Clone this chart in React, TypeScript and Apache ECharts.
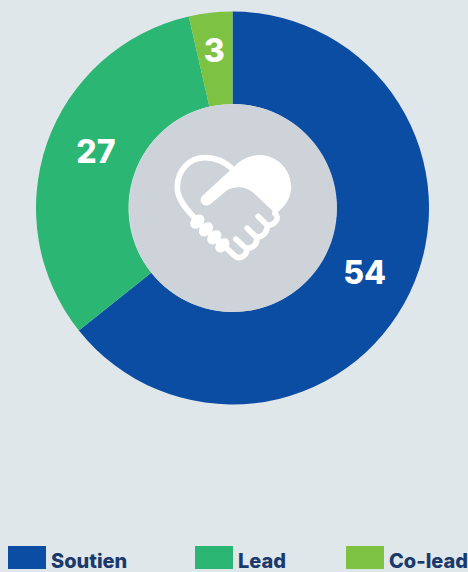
import React, { useEffect, useRef } from "react";
import * as echarts from "echarts";

const categories = ["Soutien", "Lead", "Co-lead"];
const values = [54, 27, 3];
const colors = ["#0b4da2", "#2bb673", "#7dc242"];
const legendLeft = [8, 195, 346];
const labelShift = [[-6, -2], [8, -6], [-1, -5]];
const font = "Inter";

const solid = "M340 203C365 175 395 165 420 165C475 167 514 210 514 262C514 295 495 320 468 342L400 278C375 258 345 258 320 272L275 310C262 322 248 318 243 305C240 295 245 290 250 285Z";
const outline = "M338 207C310 180 285 173 255 173C210 173 172 210 172 262C172 295 195 325 228 358M415 350L438 372C450 382 472 368 472 352C472 348 470 345 465 340M382 385L405 408C418 418 442 402 442 380M348 418L372 440C385 452 412 438 410 420M320 445L345 468C360 482 385 465 380 445";
echarts.graphic.registerShape("heartSolid", echarts.graphic.extendPath(solid, {}));
echarts.graphic.registerShape("heartLine", echarts.graphic.extendPath(outline, {}));
const beads = [[232, 365], [258, 388], [283, 412], [307, 436]];

export default function App() {
  const ref = useRef<HTMLDivElement>(null);
  useEffect(() => {
    document.body.style.margin = "0";
    const chart = echarts.init(ref.current!, undefined, { renderer: "svg" });
    chart.setOption({
      animation: false,
      backgroundColor: "#e0e7ea",
      legend: categories.map((c, i) => ({
        data: [c],
        left: legendLeft[i],
        top: 546,
        padding: 0,
        itemWidth: 38,
        itemHeight: 23,
        itemGap: 6,
        icon: "rect",
        selectedMode: false,
        formatter: "{a|{name}}",
        textStyle: {
          color: "#1b3a6b",
          fontFamily: font,
          fontWeight: 800,
          fontSize: 20,
          rich: {
            a: { color: "#1b3a6b", fontFamily: font, fontWeight: 800, fontSize: 20, padding: [7, 0, 0, 0] },
          },
        },
      })),
      series: [
        {
          type: "pie",
          center: [232.5, 208],
          radius: [104, 196.5],
          startAngle: 90,
          clockwise: true,
          silent: true,
          data: categories.map((c, i) => ({ name: c, value: values[i], itemStyle: { color: colors[i] } })),
          label: {
            show: true,
            position: "inside",
            formatter: "{c}",
            color: "#fff",
            fontFamily: font,
            fontWeight: 800,
            fontSize: 32,
          },
          labelLayout: (p: any) => ({ dx: labelShift[p.dataIndex][0], dy: labelShift[p.dataIndex][1] }),
          labelLine: { show: false },
        },
      ],
      graphic: [
        { type: "circle", shape: { cx: 233, cy: 208, r: 104 }, style: { fill: "#cdd3d9" }, z: 10 },
        {
          type: "group",
          x: 120,
          y: 100,
          scaleX: 1 / 3,
          scaleY: 1 / 3,
          z: 11,
          children: [
            { type: "heartSolid", style: { fill: "#fff" }, z: 11 },
            { type: "heartLine", style: { fill: "none", stroke: "#fff", lineWidth: 17, lineCap: "round" }, z: 11 },
            ...beads.map(([x, y]) => ({
              type: "ellipse",
              x,
              y,
              rotation: Math.PI / 4,
              shape: { cx: 0, cy: 0, rx: 24, ry: 18 },
              style: { fill: "#fff" },
              z: 11,
            })),
          ],
        },
      ],
    });
    return () => chart.dispose();
  }, []);
  return <div ref={ref} style={{ width: 468, height: 572 }} />;
}
